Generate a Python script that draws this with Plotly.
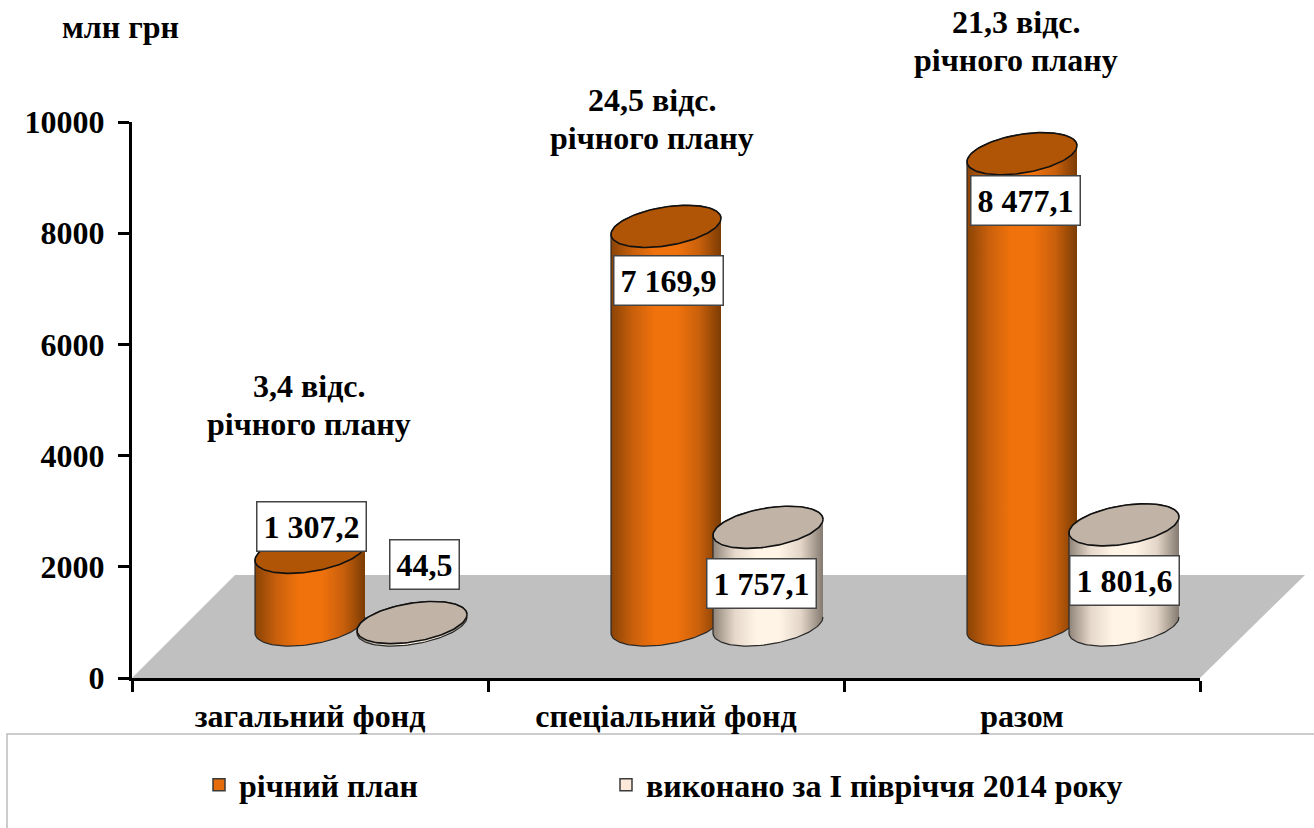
import numpy as np
import plotly.graph_objects as go

categories = ["загальний фонд", "спеціальний фонд", "разом"]
annual_plan = [1307.2, 7169.9, 8477.1]
executed = [44.5, 1757.1, 1801.6]
percent_of_plan = ["3,4", "24,5", "21,3"]
y_ticks = [0, 2000, 4000, 6000, 8000, 10000]
series_names = ["річний план", "виконано за І півріччя 2014 року"]
unit_label = "млн грн"

W, H = 1314, 828
L, R, T, B = 132, 1200, 122, 678
PX_X = (R - L) / 3.0          # pixels per category
PX_Y = (B - T) / 10000.0      # pixels per unit
LIFT = 53 / PX_Y              # the 3-D floor lifts the bases above the axis
FONT = "Liberation Serif"
A, BB, S = 55.0, 19.5, 8.0    # cylinder end ellipse in pixels


def xp(px):
    return (px - L) / (R - L)


def yp(py):
    return (B - py) / (B - T)


def ellipse(cx, val, t):
    return cx + A * np.cos(t) / PX_X, val + (BB * np.sin(t) + S * np.cos(t)) / PX_Y


def fmt(v):
    return f"{v:,.1f}".replace(",", " ").replace(".", ",")


fig = go.Figure()

# gives the left axis a trace so that it is drawn
fig.add_trace(go.Scatter(x=[0], y=[0], mode="none", showlegend=False, hoverinfo="skip"))

series = [
    (annual_plan, 0.0, "#e46c0a",
     ["#8a4305", "#c9600c", "#f0720c", "#f0720c", "#c9600c", "#7c3c04"], "#b05405"),
    (executed, 102 / PX_X, "#fde9d9",
     ["#8f8378", "#e6d9cb", "#fff4e6", "#fff4e6", "#e3d6c8", "#857a70"], "#c1b4a7"),
]

for idx, (vals, off, swatch, grad, top) in enumerate(series):
    fig.add_trace(go.Bar(
        x=list(range(3)), y=vals, yaxis="y2", name=series_names[idx],
        width=1.7 * A / PX_X, offset=off - 0.85 * A / PX_X,
        marker=dict(color=swatch, line=dict(color="#3a3a3a", width=1.5)),
        showlegend=True, legend="legend" if idx == 0 else "legend2",
    ))

for idx, (vals, off, swatch, grad, top) in enumerate(series):
    stops = np.linspace(0, 1, len(grad))
    for i, v in enumerate(vals):
        cx = i + off
        bx2, by2 = ellipse(cx, 0, -np.linspace(0, np.pi, 60))
        tx2, ty2 = ellipse(cx, v, np.linspace(np.pi, 0, 60))
        fig.add_trace(go.Scatter(
            x=list(bx2) + list(tx2), y=list(by2) + list(ty2), yaxis="y2",
            mode="lines", fill="toself", showlegend=False, hoverinfo="skip",
            line=dict(color="#2a2a2a", width=1.2),
            fillgradient=dict(type="horizontal",
                              colorscale=[[float(p), c] for p, c in zip(stops, grad)]),
        ))
        ex, ey = ellipse(cx, v, np.linspace(0, 2 * np.pi, 120))
        fig.add_trace(go.Scatter(
            x=ex, y=ey, yaxis="y2", mode="lines", fill="toself", fillcolor=top,
            line=dict(color="#111111", width=1.6), showlegend=False, hoverinfo="skip",
        ))

# data labels: pixel nudges relative to each bar's top
plan_shift = [(1, 26), (2, -54), (3, -47)]
exec_shift = [(12, 58), (-7, -56), (0, -56)]
for vals, off, shifts in ((annual_plan, 0.0, plan_shift), (executed, 102 / PX_X, exec_shift)):
    for i, v in enumerate(vals):
        dx, dy = shifts[i]
        fig.add_annotation(
            x=i + off, y=v, xref="x", yref="y2", xshift=dx, yshift=dy,
            text=fmt(v), showarrow=False, bgcolor="white",
            xanchor="center", yanchor="middle",
            bordercolor="#444444", borderwidth=1.5, borderpad=6,
            font=dict(family=FONT, size=32, color="black", weight=700),
        )

# percent headings: two separate lines for the tighter line spacing of the original
heading_pos = [(309, 405), (652, 119), (1016, 41)]
for p, (hx, hy) in zip(percent_of_plan, heading_pos):
    for text, dy in ((f"{p} відс.", -19), ("річного плану", 19)):
        fig.add_annotation(
            x=xp(hx), y=yp(hy + dy), xref="paper", yref="paper", showarrow=False,
            xanchor="center", yanchor="middle", text=text,
            font=dict(family=FONT, size=32, color="black", weight=700),
        )

fig.add_annotation(
    x=xp(120), y=yp(27), xref="paper", yref="paper", showarrow=False,
    xanchor="center", yanchor="middle",
    text=unit_label, font=dict(family=FONT, size=32, color="black", weight=700),
)

legend_font = dict(family=FONT, size=32, color="black", weight=700)
fig.update_layout(
    width=W, height=H, autosize=False,
    margin=dict(l=L, r=W - R, t=T, b=H - B, pad=0),
    paper_bgcolor="white", plot_bgcolor="rgba(0,0,0,0)",
    barmode="overlay", showlegend=True,
    legend=dict(orientation="h", x=xp(199), y=yp(785), xanchor="left", yanchor="middle",
                font=legend_font, bgcolor="rgba(0,0,0,0)"),
    legend2=dict(orientation="h", x=xp(606), y=yp(785), xanchor="left", yanchor="middle",
                 font=legend_font, bgcolor="rgba(0,0,0,0)"),
    xaxis=dict(
        range=[-0.5, 2.5], tickmode="array", tickvals=[0, 1, 2], ticktext=categories,
        ticks="", showgrid=False, zeroline=False, showline=True, linecolor="black",
        linewidth=3, ticklabelstandoff=8,
        tickfont=dict(family=FONT, size=32, color="black", weight=700),
        minor=dict(tickmode="array", tickvals=[-0.5, 0.5, 1.5, 2.5], ticks="outside",
                   ticklen=11, tickwidth=3, tickcolor="black", showgrid=False),
    ),
    yaxis=dict(
        range=[0, 10000], tickmode="array", tickvals=y_ticks, tickformat="d",
        ticks="outside", ticklen=11, tickwidth=3, tickcolor="black",
        showgrid=False, zeroline=False, showline=True, linecolor="black", linewidth=3,
        ticklabelstandoff=7,
        tickfont=dict(family=FONT, size=32, color="black", weight=700),
    ),
    yaxis2=dict(
        range=[-LIFT, 10000 - LIFT], overlaying="y", visible=False, showgrid=False,
    ),
    shapes=[
        dict(type="path", xref="paper", yref="paper", layer="below", line_width=0,
             fillcolor="#c0c0c0",
             path=f"M{xp(132)},{yp(678)} L{xp(1200)},{yp(678)} L{xp(1305)},{yp(575)} "
                  f"L{xp(235)},{yp(575)} Z"),
        dict(type="rect", xref="paper", yref="paper", layer="below",
             x0=xp(7), x1=xp(1320), y0=yp(734), y1=yp(835),
             line=dict(color="#bdbdbd", width=1.5), fillcolor="white"),
    ],
)

fig.write_html("out.html", config={"displayModeBar": False},
               post_script="document.body.style.margin='0';")
